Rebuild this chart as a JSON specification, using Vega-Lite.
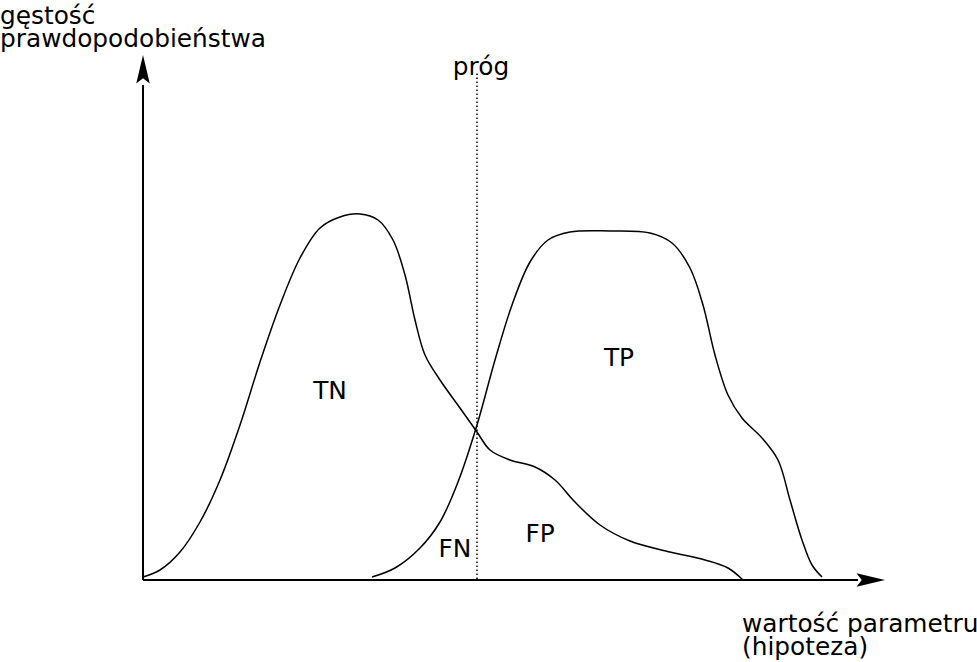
{
  "$schema": "https://vega.github.io/schema/vega-lite/v6.json",
  "width": 977,
  "height": 662,
  "padding": 0,
  "autosize": {"type": "none"},
  "background": "white",
  "config": {"view": {"stroke": null}, "text": {"font": "DejaVu Sans", "fontSize": 24.8, "color": "black"}},
  "datasets": {
    "curves": [
      {"s": "TN", "o": 0, "x": 0, "y": 3},
      {"s": "TN", "o": 1, "x": 17, "y": 10},
      {"s": "TN", "o": 2, "x": 37, "y": 28},
      {"s": "TN", "o": 3, "x": 57, "y": 58},
      {"s": "TN", "o": 4, "x": 77, "y": 100},
      {"s": "TN", "o": 5, "x": 97, "y": 155},
      {"s": "TN", "o": 6, "x": 117, "y": 218},
      {"s": "TN", "o": 7, "x": 137, "y": 275},
      {"s": "TN", "o": 8, "x": 157, "y": 322},
      {"s": "TN", "o": 9, "x": 177, "y": 352},
      {"s": "TN", "o": 10, "x": 197, "y": 363},
      {"s": "TN", "o": 11, "x": 217, "y": 366},
      {"s": "TN", "o": 12, "x": 235, "y": 360},
      {"s": "TN", "o": 13, "x": 250, "y": 340},
      {"s": "TN", "o": 14, "x": 262, "y": 305},
      {"s": "TN", "o": 15, "x": 272, "y": 260},
      {"s": "TN", "o": 16, "x": 282, "y": 225},
      {"s": "TN", "o": 17, "x": 297, "y": 200},
      {"s": "TN", "o": 18, "x": 317, "y": 172},
      {"s": "TN", "o": 19, "x": 334, "y": 148},
      {"s": "TN", "o": 20, "x": 347, "y": 130},
      {"s": "TN", "o": 21, "x": 367, "y": 120},
      {"s": "TN", "o": 22, "x": 392, "y": 113},
      {"s": "TN", "o": 23, "x": 412, "y": 100},
      {"s": "TN", "o": 24, "x": 432, "y": 78},
      {"s": "TN", "o": 25, "x": 457, "y": 55},
      {"s": "TN", "o": 26, "x": 487, "y": 39},
      {"s": "TN", "o": 27, "x": 527, "y": 28},
      {"s": "TN", "o": 28, "x": 562, "y": 20},
      {"s": "TN", "o": 29, "x": 585, "y": 12},
      {"s": "TN", "o": 30, "x": 600, "y": 0},
      {"s": "TP", "o": 0, "x": 229, "y": 3},
      {"s": "TP", "o": 1, "x": 252, "y": 12},
      {"s": "TP", "o": 2, "x": 277, "y": 32},
      {"s": "TP", "o": 3, "x": 297, "y": 58},
      {"s": "TP", "o": 4, "x": 315, "y": 98},
      {"s": "TP", "o": 5, "x": 334, "y": 155},
      {"s": "TP", "o": 6, "x": 352, "y": 220},
      {"s": "TP", "o": 7, "x": 369, "y": 275},
      {"s": "TP", "o": 8, "x": 387, "y": 318},
      {"s": "TP", "o": 9, "x": 405, "y": 340},
      {"s": "TP", "o": 10, "x": 427, "y": 348},
      {"s": "TP", "o": 11, "x": 467, "y": 349},
      {"s": "TP", "o": 12, "x": 507, "y": 347},
      {"s": "TP", "o": 13, "x": 529, "y": 337},
      {"s": "TP", "o": 14, "x": 547, "y": 312},
      {"s": "TP", "o": 15, "x": 560, "y": 275},
      {"s": "TP", "o": 16, "x": 572, "y": 225},
      {"s": "TP", "o": 17, "x": 585, "y": 185},
      {"s": "TP", "o": 18, "x": 599, "y": 162},
      {"s": "TP", "o": 19, "x": 619, "y": 142},
      {"s": "TP", "o": 20, "x": 635, "y": 120},
      {"s": "TP", "o": 21, "x": 647, "y": 80},
      {"s": "TP", "o": 22, "x": 659, "y": 40},
      {"s": "TP", "o": 23, "x": 669, "y": 15},
      {"s": "TP", "o": 24, "x": 679, "y": 3}
    ],
    "labels": [
      {"t": "gęstość", "x": -143, "y": 556, "a": "left"},
      {"t": "prawdopodobieństwa", "x": -143, "y": 533, "a": "left"},
      {"t": "próg", "x": 338, "y": 505, "a": "center"},
      {"t": "TN", "x": 187, "y": 181, "a": "center"},
      {"t": "TP", "x": 476, "y": 214, "a": "center"},
      {"t": "FN", "x": 312, "y": 23, "a": "center"},
      {"t": "FP", "x": 397, "y": 38, "a": "center"},
      {"t": "wartość parametru", "x": 599, "y": -52, "a": "left"},
      {"t": "(hipoteza)", "x": 599, "y": -75, "a": "left"}
    ],
    "axes": [
      {"ax": "x", "x": 0, "y": 0, "x2": 715, "y2": 0},
      {"ax": "y", "x": 0, "y": 0, "x2": 0, "y2": 495}
    ],
    "threshold": [{"x": 334, "y": 1, "y2": 508}],
    "arrows": [
      {"dir": "up", "x": 0, "y": 510},
      {"dir": "right", "x": 727, "y": 0}
    ]
  },
  "layer": [
    {
      "data": {"name": "axes"},
      "mark": {"type": "rule", "stroke": "black", "strokeWidth": 2},
      "encoding": {
        "x": {"field": "x", "type": "quantitative", "scale": {"domain": [-143, 834], "nice": false, "zero": false}, "axis": null},
        "y": {"field": "y", "type": "quantitative", "scale": {"domain": [-82, 580], "nice": false, "zero": false}, "axis": null},
        "x2": {"field": "x2"},
        "y2": {"field": "y2"}
      }
    },
    {
      "data": {"name": "threshold"},
      "mark": {"type": "rule", "stroke": "black", "strokeWidth": 1.5, "strokeDash": [1.5, 2.5]},
      "encoding": {
        "x": {"field": "x", "type": "quantitative"},
        "y": {"field": "y", "type": "quantitative"},
        "y2": {"field": "y2"}
      }
    },
    {
      "data": {"name": "curves"},
      "mark": {"type": "line", "stroke": "black", "strokeWidth": 1.5, "interpolate": "catmull-rom"},
      "encoding": {
        "x": {"field": "x", "type": "quantitative"},
        "y": {"field": "y", "type": "quantitative"},
        "detail": {"field": "s"},
        "order": {"field": "o", "type": "quantitative"}
      }
    },
    {
      "data": {"name": "arrows"},
      "transform": [{"filter": "datum.dir === 'up'"}],
      "mark": {"type": "point", "filled": true, "color": "black", "opacity": 1, "size": 900, "shape": "M0,-1L0.45,0.9L0,0.55L-0.45,0.9Z"},
      "encoding": {
        "x": {"field": "x", "type": "quantitative"},
        "y": {"field": "y", "type": "quantitative"}
      }
    },
    {
      "data": {"name": "arrows"},
      "transform": [{"filter": "datum.dir === 'right'"}],
      "mark": {"type": "point", "filled": true, "color": "black", "opacity": 1, "size": 900, "shape": "M1,0L-0.9,0.45L-0.55,0L-0.9,-0.45Z"},
      "encoding": {
        "x": {"field": "x", "type": "quantitative"},
        "y": {"field": "y", "type": "quantitative"}
      }
    },
    {
      "data": {"name": "labels"},
      "transform": [{"filter": "datum.a === 'left'"}],
      "mark": {"type": "text", "baseline": "alphabetic", "align": "left"},
      "encoding": {
        "x": {"field": "x", "type": "quantitative"},
        "y": {"field": "y", "type": "quantitative"},
        "text": {"field": "t"}
      }
    },
    {
      "data": {"name": "labels"},
      "transform": [{"filter": "datum.a === 'center'"}],
      "mark": {"type": "text", "baseline": "alphabetic", "align": "center"},
      "encoding": {
        "x": {"field": "x", "type": "quantitative"},
        "y": {"field": "y", "type": "quantitative"},
        "text": {"field": "t"}
      }
    }
  ]
}
